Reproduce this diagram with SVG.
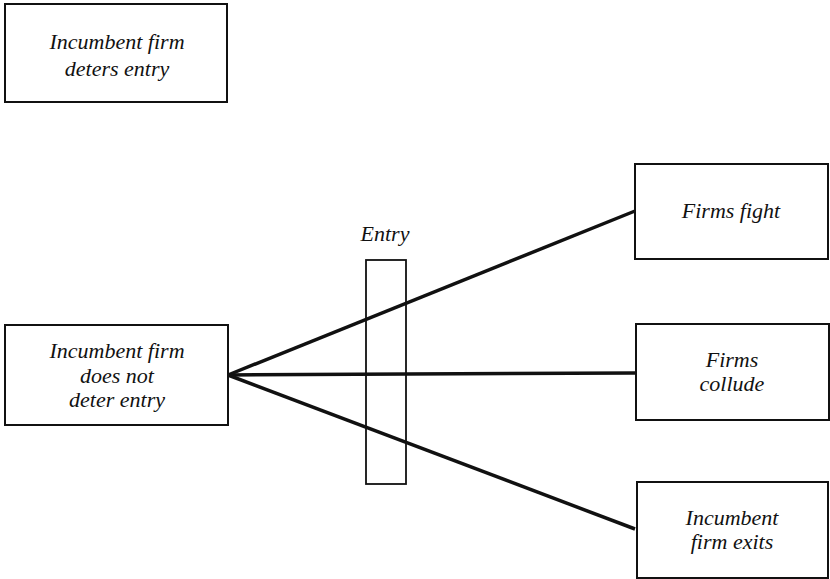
<svg xmlns="http://www.w3.org/2000/svg" width="830" height="579" viewBox="0 0 830 579">
<style>
.box{fill:#fff;stroke:#111;stroke-width:2}
.t{font-family:"Liberation Serif","Times New Roman",serif;font-style:italic;font-size:22px;fill:#111;text-anchor:middle}
.c{stroke:#111;stroke-width:3.5;fill:none}
</style>
<rect width="830" height="579" fill="#fff"/>
<g id="connectors">
<line class="c" x1="228" y1="375" x2="635" y2="211"/>
<line class="c" x1="228" y1="375" x2="635" y2="373"/>
<line class="c" x1="228" y1="375" x2="635" y2="529"/>
</g>
<g id="entry">
<rect x="366" y="260" width="40" height="224" fill="none" stroke="#111" stroke-width="1.8"/>
<text class="t" x="385" y="241">Entry</text>
</g>
<g id="deters">
<rect class="box" x="5" y="4" width="222" height="98"/>
<text class="t" x="117" y="49">Incumbent firm</text>
<text class="t" x="117" y="76">deters entry</text>
</g>
<g id="notdeter">
<rect class="box" x="5" y="325" width="223" height="100"/>
<text class="t" x="117" y="358">Incumbent firm</text>
<text class="t" x="117" y="383">does not</text>
<text class="t" x="117" y="407">deter entry</text>
</g>
<g id="fight">
<rect class="box" x="635" y="164" width="193" height="95"/>
<text class="t" x="731" y="218">Firms fight</text>
</g>
<g id="collude">
<rect class="box" x="636" y="324" width="193" height="96"/>
<text class="t" x="732" y="367">Firms</text>
<text class="t" x="732" y="391">collude</text>
</g>
<g id="exits">
<rect class="box" x="637" y="482" width="191" height="96"/>
<text class="t" x="732" y="525">Incumbent</text>
<text class="t" x="732" y="549">firm exits</text>
</g>
</svg>
